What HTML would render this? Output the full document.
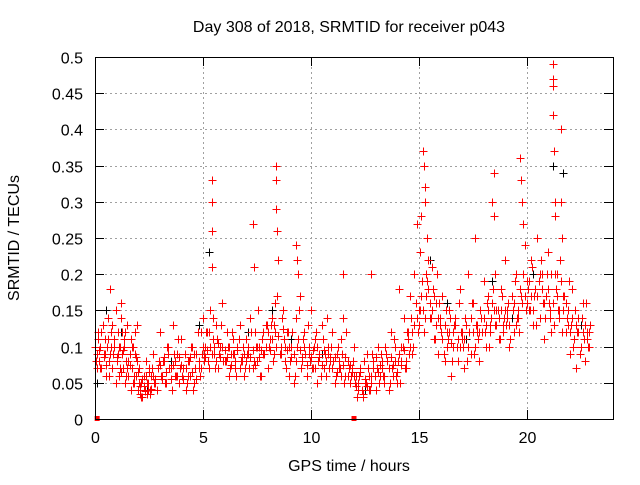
<!DOCTYPE html>
<html><head><meta charset="utf-8"><style>
body{margin:0;background:#fff}
svg text{font-family:"Liberation Sans",sans-serif;font-size:16px;fill:#000}
</style></head><body>
<svg id="chart" width="640" height="480" viewBox="0 0 640 480" xmlns="http://www.w3.org/2000/svg">
<rect width="640" height="480" fill="#fff"/>
<text x="349" y="32" text-anchor="middle">Day 308 of 2018, SRMTID for receiver p043</text>
<text x="349" y="471" text-anchor="middle">GPS time / hours</text>
<text transform="translate(19,238) rotate(-90)" text-anchor="middle">SRMTID / TECUs</text>
<g id="grid"></g>
<g id="ticks"></g>
<g id="black"></g>
<g id="red"></g>
<rect x="95.5" y="57.5" width="518" height="362" fill="none" stroke="#000" stroke-width="1"/>
</svg>
<script>
const xTicks=[0,5,10,15,20];
const yTicks=[0,0.05,0.1,0.15,0.2,0.25,0.3,0.35,0.4,0.45,0.5];
const yTickLabels=["0","0.05","0.1","0.15","0.2","0.25","0.3","0.35","0.4","0.45","0.5"];
const redHours=[0.1,0.15,0.2,0.25,0.3,0.35,0.4,0.45,0.5,0.55,0.6,0.65,0.7,0.72,0.75,0.8,0.85,0.9,0.95,1.0,1.05,1.1,1.15,1.2,1.22,1.25,1.3,1.35,1.4,1.45,1.5,1.55,1.6,1.65,1.7,1.75,1.8,1.85,1.9,1.95,2.0,2.05,2.1,2.15,2.2,2.25,2.3,2.35,2.4,2.45,2.5,2.55,2.6,2.7,2.8,2.9,3.0,3.1,3.2,3.3,3.4,3.5,3.6,3.7,3.8,3.9,4.0,4.1,4.2,4.3,4.4,4.5,4.6,4.7,4.8,4.9,5.0,5.05,5.1,5.2,5.3,5.35,5.4,5.4,5.4,5.42,5.45,5.5,5.6,5.7,5.8,5.9,6.0,6.1,6.2,6.3,6.4,6.5,6.6,6.7,6.8,6.9,7.0,7.1,7.2,7.3,7.3,7.35,7.4,7.5,7.6,7.7,7.8,7.9,8.0,8.1,8.2,8.3,8.35,8.4,8.4,8.4,8.45,8.5,8.6,8.7,8.8,8.9,9.0,9.1,9.2,9.3,9.3,9.35,9.4,9.5,9.6,9.7,9.8,9.9,10.0,10.1,10.2,10.3,10.4,10.5,10.6,10.7,10.8,10.9,11.0,11.1,11.2,11.3,11.4,11.5,11.5,11.6,11.7,11.8,11.9,12.0,12.1,12.2,12.3,12.4,12.5,12.6,12.7,12.8,12.8,12.9,13.0,13.1,13.2,13.3,13.4,13.5,13.6,13.7,13.8,13.9,14.0,14.1,14.2,14.2,14.3,14.4,14.5,14.6,14.7,14.8,14.9,15.0,15.05,15.1,15.2,15.25,15.3,15.3,15.35,15.4,15.45,15.5,15.6,15.7,15.8,15.9,16.0,16.1,16.2,16.3,16.4,16.5,16.6,16.7,16.8,16.9,17.0,17.1,17.2,17.3,17.4,17.5,17.6,17.7,17.8,17.9,18.0,18.1,18.2,18.3,18.4,18.5,18.5,18.55,18.6,18.7,18.8,18.9,19.0,19.1,19.2,19.3,19.4,19.5,19.6,19.7,19.75,19.8,19.85,19.9,20.0,20.1,20.2,20.3,20.4,20.5,20.6,20.7,20.8,20.9,21.0,21.1,21.15,21.2,21.2,21.2,21.22,21.25,21.3,21.3,21.4,21.5,21.6,21.6,21.65,21.7,21.8,21.9,22.0,22.1,22.2,22.3,22.4,22.5,22.6,22.7,22.8,22.9];
const redValues=[0.09,0.12,0.08,0.1,0.07,0.13,0.09,0.11,0.06,0.1,0.14,0.08,0.18,0.1,0.12,0.07,0.09,0.11,0.05,0.08,0.12,0.06,0.1,0.16,0.14,0.09,0.07,0.11,0.05,0.08,0.13,0.06,0.09,0.04,0.07,0.1,0.05,0.12,0.06,0.08,0.04,0.07,0.035,0.05,0.03,0.06,0.04,0.08,0.035,0.05,0.07,0.04,0.06,0.09,0.05,0.07,0.12,0.06,0.08,0.05,0.1,0.07,0.13,0.06,0.09,0.05,0.11,0.07,0.04,0.08,0.06,0.1,0.05,0.09,0.07,0.12,0.14,0.08,0.1,0.12,0.07,0.15,0.33,0.3,0.26,0.21,0.11,0.09,0.13,0.07,0.1,0.16,0.08,0.12,0.06,0.09,0.11,0.07,0.1,0.13,0.08,0.06,0.11,0.09,0.14,0.07,0.27,0.21,0.12,0.08,0.1,0.06,0.09,0.13,0.07,0.11,0.14,0.09,0.16,0.35,0.33,0.29,0.26,0.22,0.1,0.15,0.08,0.12,0.06,0.1,0.05,0.14,0.24,0.22,0.2,0.17,0.08,0.12,0.06,0.1,0.15,0.07,0.11,0.05,0.09,0.13,0.07,0.06,0.1,0.08,0.12,0.05,0.09,0.07,0.11,0.2,0.14,0.06,0.08,0.05,0.07,0.1,0.06,0.04,0.07,0.03,0.05,0.09,0.04,0.2,0.06,0.08,0.04,0.1,0.06,0.07,0.05,0.09,0.04,0.12,0.06,0.1,0.05,0.18,0.08,0.1,0.14,0.07,0.12,0.17,0.09,0.2,0.27,0.15,0.23,0.28,0.37,0.35,0.32,0.3,0.2,0.25,0.18,0.14,0.21,0.11,0.16,0.09,0.13,0.17,0.08,0.12,0.15,0.06,0.1,0.14,0.08,0.18,0.11,0.07,0.13,0.2,0.09,0.16,0.25,0.12,0.08,0.14,0.19,0.1,0.17,0.13,0.3,0.28,0.34,0.2,0.15,0.11,0.18,0.13,0.22,0.15,0.1,0.17,0.12,0.2,0.14,0.36,0.33,0.3,0.27,0.24,0.19,0.15,0.22,0.13,0.18,0.25,0.14,0.2,0.11,0.17,0.23,0.15,0.12,0.49,0.47,0.46,0.42,0.37,0.3,0.28,0.2,0.14,0.4,0.3,0.25,0.17,0.12,0.15,0.09,0.18,0.11,0.07,0.14,0.1,0.16,0.08,0.12,0.1];
// denser background samples, rows of ten per hour (hour 0..22)
const denseHourStart=[0,1,2,3,4,5,6,7,8,9,10,11,12,13,14,15,16,17,18,19,20,21,22];
const denseValues=[
[0.08,0.11,0.07,0.13,0.09,0.1,0.06,0.12,0.09,0.15],
[0.09,0.07,0.12,0.1,0.06,0.08,0.11,0.05,0.09,0.13],
[0.05,0.03,0.045,0.06,0.04,0.035,0.07,0.05,0.04,0.08],
[0.06,0.08,0.05,0.1,0.07,0.04,0.09,0.06,0.11,0.07],
[0.06,0.09,0.05,0.08,0.1,0.04,0.07,0.12,0.06,0.09],
[0.09,0.12,0.08,0.1,0.14,0.07,0.11,0.09,0.13,0.08],
[0.08,0.1,0.07,0.12,0.09,0.06,0.11,0.08,0.1,0.07],
[0.09,0.07,0.12,0.08,0.1,0.15,0.06,0.11,0.09,0.13],
[0.1,0.13,0.08,0.12,0.17,0.09,0.14,0.11,0.07,0.12],
[0.08,0.12,0.06,0.1,0.15,0.07,0.11,0.09,0.13,0.08],
[0.07,0.1,0.12,0.08,0.06,0.11,0.09,0.14,0.07,0.1],
[0.08,0.06,0.1,0.07,0.09,0.05,0.12,0.07,0.06,0.08],
[0.05,0.03,0.06,0.04,0.08,0.05,0.07,0.04,0.09,0.06],
[0.07,0.05,0.09,0.06,0.1,0.08,0.05,0.07,0.11,0.06],
[0.08,0.05,0.1,0.07,0.12,0.09,0.14,0.1,0.16,0.12],
[0.15,0.19,0.12,0.17,0.22,0.14,0.18,0.11,0.2,0.16],
[0.12,0.09,0.15,0.11,0.14,0.08,0.13,0.1,0.16,0.12],
[0.1,0.14,0.08,0.12,0.16,0.09,0.13,0.11,0.15,0.12],
[0.12,0.16,0.1,0.14,0.18,0.13,0.15,0.11,0.17,0.14],
[0.13,0.16,0.11,0.15,0.19,0.14,0.12,0.17,0.2,0.15],
[0.18,0.15,0.21,0.17,0.13,0.19,0.22,0.16,0.14,0.2],
[0.16,0.2,0.13,0.18,0.15,0.22,0.12,0.17,0.14,0.19],
[0.13,0.1,0.15,0.12,0.09,0.14,0.11,0.16,0.1,0.13]];
const denseValues2=[
[0.1,0.07,0.095,0.12,0.085,0.075,0.11,0.09,0.13,0.1],
[0.085,0.1,0.065,0.095,0.12,0.07,0.075,0.1,0.06,0.085],
[0.065,0.045,0.055,0.038,0.05,0.065,0.042,0.06,0.055,0.07],
[0.075,0.055,0.085,0.065,0.09,0.055,0.075,0.08,0.06,0.085],
[0.075,0.055,0.07,0.06,0.085,0.065,0.09,0.055,0.08,0.07],
[0.1,0.085,0.095,0.12,0.09,0.1,0.08,0.105,0.085,0.1],
[0.095,0.085,0.1,0.075,0.09,0.08,0.095,0.07,0.085,0.09],
[0.08,0.1,0.085,0.095,0.075,0.1,0.085,0.095,0.12,0.1],
[0.12,0.095,0.11,0.13,0.1,0.115,0.09,0.125,0.1,0.095],
[0.1,0.085,0.09,0.08,0.11,0.095,0.085,0.1,0.075,0.09],
[0.085,0.095,0.07,0.1,0.085,0.075,0.095,0.08,0.09,0.085],
[0.07,0.085,0.065,0.08,0.06,0.075,0.085,0.06,0.075,0.065],
[0.06,0.045,0.05,0.065,0.035,0.055,0.045,0.06,0.05,0.07],
[0.085,0.065,0.075,0.08,0.06,0.09,0.07,0.085,0.075,0.08],
[0.065,0.09,0.075,0.095,0.08,0.11,0.1,0.12,0.13,0.14],
[0.13,0.17,0.15,0.14,0.19,0.16,0.15,0.17,0.13,0.14],
[0.14,0.11,0.13,0.1,0.12,0.105,0.12,0.13,0.11,0.1],
[0.12,0.11,0.13,0.1,0.14,0.12,0.1,0.13,0.12,0.14],
[0.14,0.13,0.15,0.12,0.16,0.15,0.13,0.14,0.15,0.12],
[0.15,0.14,0.13,0.17,0.16,0.13,0.15,0.18,0.16,0.17],
[0.16,0.19,0.17,0.15,0.18,0.17,0.2,0.18,0.16,0.17],
[0.18,0.14,0.16,0.2,0.17,0.15,0.19,0.15,0.16,0.13],
[0.12,0.14,0.11,0.13,0.12,0.1,0.12,0.13,0.11,0.12]];
const denseOffsets=[0.05,0.15,0.25,0.35,0.45,0.55,0.65,0.75,0.85,0.95];
const denseOffsets2=[0.0,0.1,0.2,0.3,0.4,0.5,0.6,0.7,0.8,0.9];
const blackHours=[0.1,0.5,1.2,2.4,3.5,4.8,5.3,6.2,7.1,8.2,9.1,10.5,11.3,12.5,13.8,14.8,15.5,16.3,17.2,18.4,19.3,20.3,21.2,21.7,22.5];
const blackValues=[0.05,0.15,0.12,0.04,0.08,0.13,0.23,0.1,0.12,0.15,0.11,0.09,0.07,0.04,0.06,0.13,0.22,0.16,0.11,0.19,0.14,0.2,0.35,0.34,0.13];
const xs=h=>95+h*518/24;
const ys=v=>419-v*724;
const NS="http://www.w3.org/2000/svg";
const grid=document.getElementById('grid'),ticks=document.getElementById('ticks');
function line(p,x1,y1,x2,y2,st,dash){const l=document.createElementNS(NS,'line');l.setAttribute('x1',x1);l.setAttribute('y1',y1);l.setAttribute('x2',x2);l.setAttribute('y2',y2);l.setAttribute('stroke',st);if(dash)l.setAttribute('stroke-dasharray',dash);p.appendChild(l);return l;}
function txt(p,x,y,s,a){const t=document.createElementNS(NS,'text');t.setAttribute('x',x);t.setAttribute('y',y);t.setAttribute('text-anchor',a);t.textContent=s;p.appendChild(t);return t;}
yTicks.forEach((v,i)=>{const y=Math.round(ys(v))+0.5;
 if(i>0){const g=line(grid,95,y,613,y,'#a0a0a0','2,3');
 
 }
 line(ticks,95,y,104,y,'#000');line(ticks,613,y,604,y,'#000');
 const t=txt(ticks,83,y+6,yTickLabels[i],'end');
 
 });
xTicks.forEach(h=>{const x=Math.round(xs(h))+0.5;
 if(h>0){const g=line(grid,x,57,x,419,'#a0a0a0','2,3');
 
 }
 line(ticks,x,419,x,410,'#000');line(ticks,x,57,x,66,'#000');
 const t=txt(ticks,x,443,String(h),'middle');
 
 });
function plus(p,h,v,c){const x=Math.round(xs(h))+0.5,y=Math.round(ys(v))+0.5;
 const path=document.createElementNS(NS,'path');
 path.setAttribute('d',`M${x-4} ${y}H${x+4}M${x} ${y-4}V${y+4}`);
 path.setAttribute('stroke',c);path.setAttribute('fill','none');
 
 
 p.appendChild(path);}
const bg=document.getElementById('black'),rg=document.getElementById('red');
blackHours.forEach((h,i)=>plus(bg,h,blackValues[i],'#000'));
denseHourStart.forEach((h,i)=>denseValues[i].forEach((v,j)=>plus(rg,h+denseOffsets[j],v,'#f00')));
denseHourStart.forEach((h,i)=>denseValues2[i].forEach((v,j)=>plus(rg,h+denseOffsets2[j],v,'#f00')));
redHours.forEach((h,i)=>plus(rg,h,redValues[i],'#f00'));
[0.1,12].forEach(h=>{const r=document.createElementNS(NS,'rect');
 r.setAttribute('x',xs(h)-2.5);r.setAttribute('y',416);r.setAttribute('width',5);r.setAttribute('height',5);r.setAttribute('fill','#f00');
 
 
 rg.appendChild(r);});
</script>
</body></html>
